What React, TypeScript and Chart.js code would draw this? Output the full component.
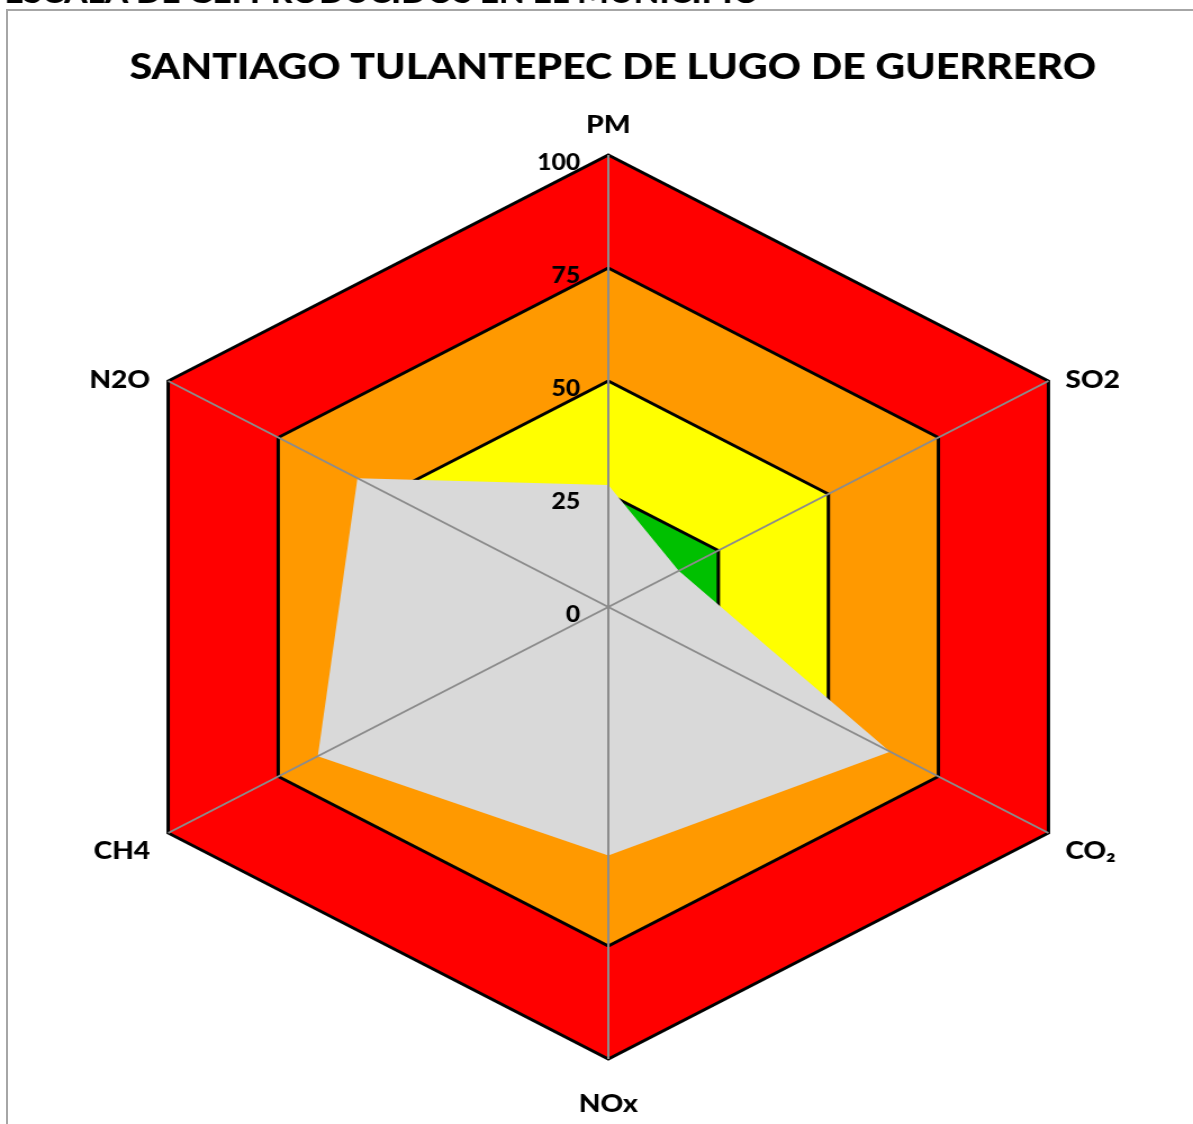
import React, { useEffect, useRef } from "react";
import { Chart, registerables } from "chart.js";

Chart.register(...registerables);

const chartTitle = "SANTIAGO TULANTEPEC DE LUGO DE GUERRERO";
const pageHeading = "ESCALA DE GEI PRODUCIDOS EN EL MUNICIPIO";
const categories = ["PM", "SO2", "CO\u2082", "NOx", "CH4", "N2O"];
const emissionValues = [27, 16, 64, 55, 66, 57];
const greenBand = [25, 25, 25, 25, 25, 25];
const yellowBand = [50, 50, 50, 50, 50, 50];
const orangeBand = [75, 75, 75, 75, 75, 75];
const redBand = [100, 100, 100, 100, 100, 100];
const tickValues = [0, 25, 50, 75, 100];
const tickLabels = ["0", "25", "50", "75", "100"];

const FONT = 'Lato, "Open Sans", "DejaVu Sans", sans-serif';
const CANVAS_W = 1061;
const CANVAS_H = 1124;
const DISPLAY_W = 1193;

const overlayPlugin = {
  id: "overlay",
  afterDatasetsDraw(chart: any) {
    const ctx = chart.ctx;
    const scale = chart.scales.r;
    const xc = scale.xCenter;
    const yc = scale.yCenter;
    ctx.save();
    // angle lines on top of fills
    ctx.strokeStyle = "#8c8c8c";
    ctx.lineWidth = 2;
    categories.forEach((_, i) => {
      const p = scale.getPointPositionForValue(i, 100);
      ctx.beginPath();
      ctx.moveTo(xc, yc);
      ctx.lineTo(p.x, p.y);
      ctx.stroke();
    });
    // tick labels
    ctx.fillStyle = "#000";
    ctx.font = `900 22px ${FONT}`;
    ctx.textAlign = "right";
    ctx.textBaseline = "middle";
    tickValues.forEach((v, i) => {
      const d = scale.getDistanceFromCenterForValue(v);
      ctx.fillText(tickLabels[i], xc - 25, yc - d + 8);
    });
    // point labels
    ctx.font = `900 25px ${FONT}`;
    categories.forEach((lab, i) => {
      const p = scale.getPointPositionForValue(i, 100);
      const dx = p.x - xc;
      let x = p.x;
      let y = p.y;
      if (Math.abs(dx) < 1) {
        ctx.textAlign = "center";
        y = p.y < yc ? p.y - 30 : p.y + 45;
      } else {
        ctx.textAlign = dx > 0 ? "left" : "right";
        x = dx > 0 ? p.x + 15 : p.x - 16;
        y = p.y < yc ? p.y - 1 : p.y + 18;
      }
      ctx.fillText(lab, x, y);
    });
    // title
    ctx.font = `900 40px ${FONT}`;
    let w = ctx.measureText(chartTitle).width;
    const titleSize = (40 * 860) / w;
    ctx.font = `900 ${titleSize}px ${FONT}`;
    ctx.textAlign = "center";
    ctx.textBaseline = "middle";
    ctx.fillText(chartTitle, xc + 4, 67);
    // cut-off heading above the frame
    ctx.font = `900 30px ${FONT}`;
    w = ctx.measureText(pageHeading).width;
    const headSize = (30 * 672) / w;
    ctx.font = `900 ${headSize}px ${FONT}`;
    ctx.textAlign = "left";
    ctx.textBaseline = "alphabetic";
    ctx.fillText(pageHeading, 4, 3);
    ctx.restore();
  },
};

function band(label: string, data: number[], color: string) {
  return {
    label,
    data,
    backgroundColor: color,
    borderColor: "#000000",
    borderWidth: 3,
    borderJoinStyle: "miter",
    pointRadius: 0,
    pointHoverRadius: 0,
    fill: true,
  };
}

export default function App() {
  const ref = useRef<HTMLCanvasElement | null>(null);
  useEffect(() => {
    const canvas = ref.current;
    if (!canvas) return;
    const chart = new Chart(canvas, {
      type: "radar",
      data: {
        labels: categories,
        datasets: [
          {
            label: "Emisiones",
            data: emissionValues,
            backgroundColor: "#D9D9D9",
            borderColor: "#D9D9D9",
            borderWidth: 0,
            pointRadius: 0,
            pointHoverRadius: 0,
            fill: true,
          },
          band("Bajo", greenBand, "#00C000"),
          band("Moderado", yellowBand, "#FFFF00"),
          band("Alto", orangeBand, "#FF9900"),
          band("Muy alto", redBand, "#FF0000"),
        ] as any,
      },
      options: {
        responsive: false,
        animation: false,
        devicePixelRatio: 1,
        layout: { padding: { left: 41, right: 20, top: 155, bottom: 65 } },
        plugins: {
          legend: { display: false },
          title: { display: false },
          tooltip: { enabled: false },
        },
        elements: { line: { tension: 0 } },
        scales: {
          r: {
            min: 0,
            max: 100,
            beginAtZero: true,
            ticks: { display: false, stepSize: 25 },
            grid: { display: false },
            angleLines: { display: false },
            pointLabels: { display: false },
          },
        },
      } as any,
      plugins: [overlayPlugin],
    });
    return () => chart.destroy();
  }, []);

  return (
    <div
      style={{
        position: "fixed",
        left: 0,
        top: 0,
        width: DISPLAY_W,
        height: CANVAS_H,
        overflow: "hidden",
        background: "#ffffff",
      }}
    >
      <div
        style={{
          position: "absolute",
          left: 6,
          top: 9,
          width: 1400,
          height: 1400,
          borderLeft: "2px solid #a6a6a6",
          borderTop: "2px solid #a6a6a6",
        }}
      />
      <canvas
        ref={ref}
        width={CANVAS_W}
        height={CANVAS_H}
        style={{
          position: "absolute",
          left: 0,
          top: 0,
          width: DISPLAY_W + "px",
          height: CANVAS_H + "px",
        }}
      />
    </div>
  );
}
